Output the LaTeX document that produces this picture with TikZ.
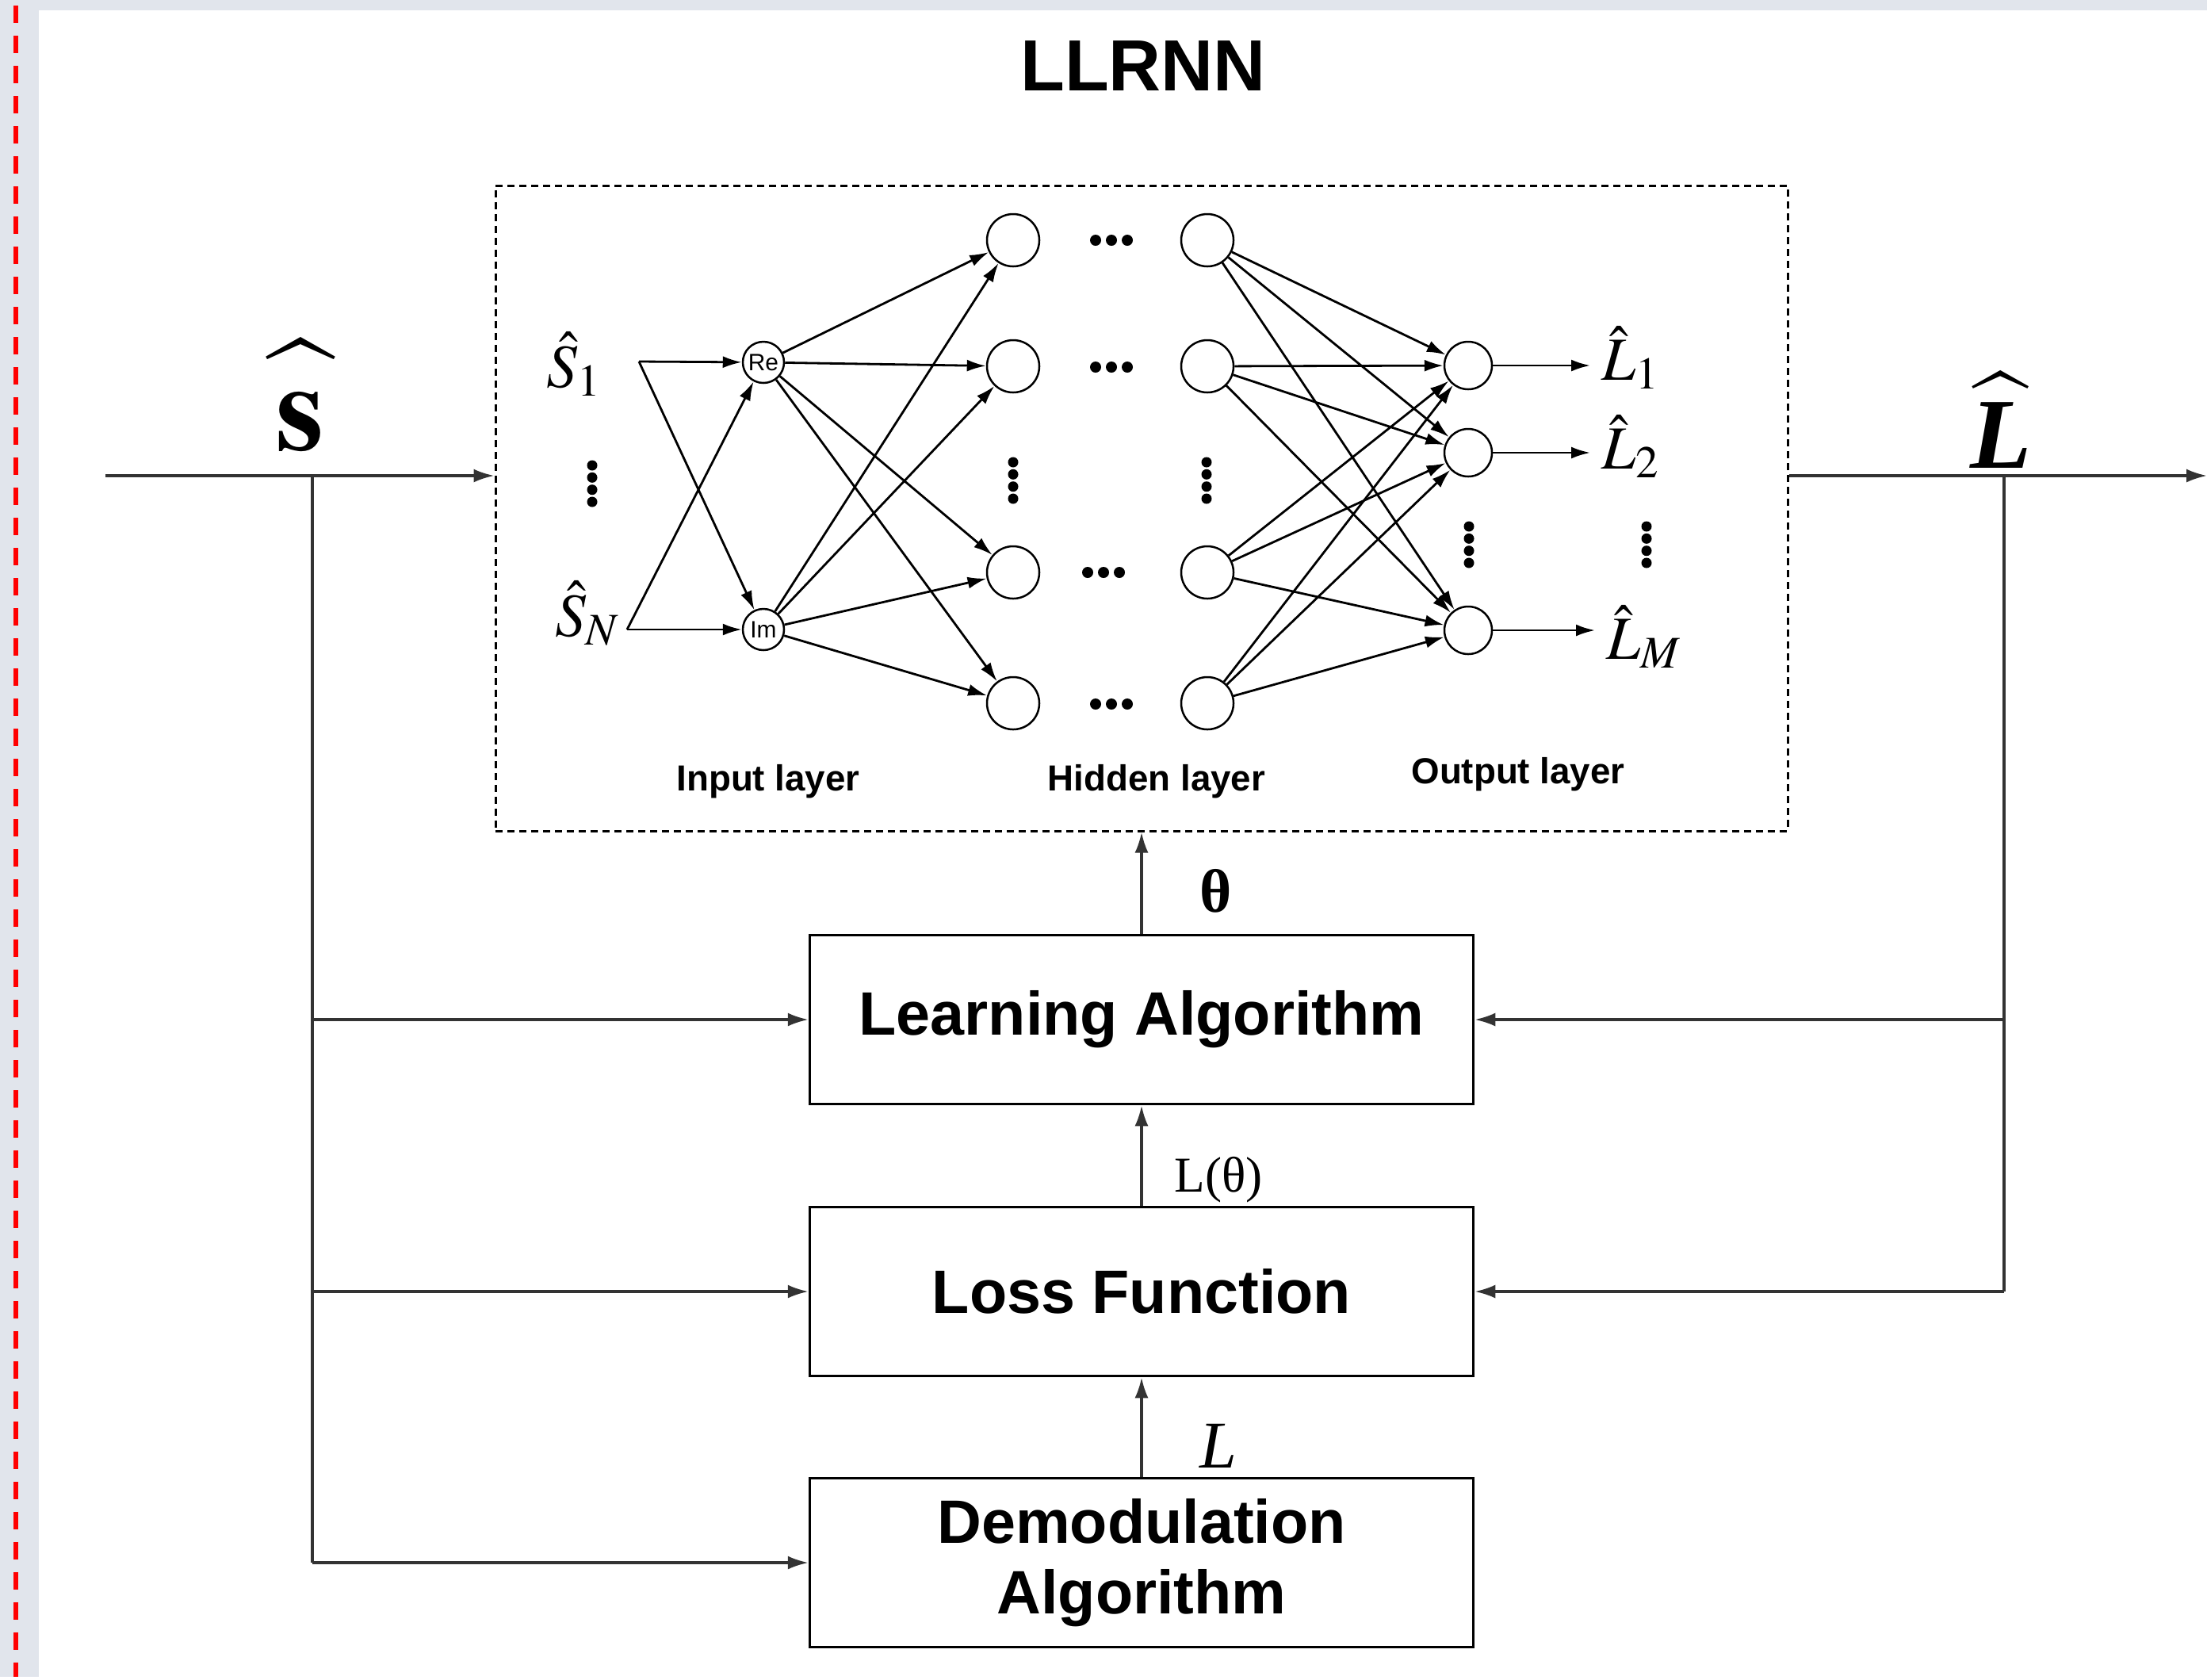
\documentclass[tikz,border=0pt]{standalone}
\usepackage{mathptmx}
\usepackage{fontspec}
\setmainfont{Liberation Serif}
\setsansfont{Liberation Sans}
\usetikzlibrary{arrows.meta}
\definecolor{pagegray}{HTML}{E1E5EC}

\begin{document}
\begin{tikzpicture}[
	line/.style={line width=0.032cm, black!80},
	arr/.style={line, -{Latex[length=0.26cm,width=0.17cm]}},
	narr/.style={line width=0.028cm, -{Latex[length=0.24cm,width=0.15cm]}},
	blk/.style={draw, line width=0.035cm, minimum width=8.37cm, minimum height=2.13cm, inner sep=0pt, align=center, font=\sffamily\bfseries\fontsize{22}{25.5}\selectfont},
	inn/.style={draw, circle, line width=0.025cm, minimum size=0.52cm, inner sep=0pt, font=\sffamily\fontsize{8.5}{8.5}\selectfont},
	hid/.style={draw, circle, line width=0.025cm, minimum size=0.66cm, inner sep=0pt},
	outn/.style={draw, circle, line width=0.025cm, minimum size=0.6cm, inner sep=0pt},
	lay/.style={font=\sffamily\bfseries\fontsize{13}{15}\selectfont},
	sym/.style={font=\fontsize{22}{26}\selectfont, inner sep=1pt}
]
			% page frame
			\fill[pagegray] (0,0) rectangle (27.84,-21.15);
			\fill[white] (0.49,-0.13) rectangle (27.84,-21.15);
			\draw[red, line width=0.06cm, dash pattern=on 0.22cm off 0.16cm] (0.20,-0.07) -- (0.20,-21.15);
			\useasboundingbox (0,0) rectangle (27.84,-21.15);

			\node[font=\sffamily\bfseries\fontsize{26}{30}\selectfont] (title)at(14.42, -0.83) {LLRNN};
			\node[draw, line width=0.03cm, dash pattern=on 0.09cm off 0.06cm, minimum width=16.30cm, minimum height=8.14cm, inner sep=0pt] (nn)at(14.40, -6.41) {};

			% network
			\node[sym, anchor=base] (s1)at(7.24, -4.88) {$\hat{S}_1$};
			\node[sym, anchor=base] (sN)at(7.41, -8.02) {$\hat{S}_N$};
			\coordinate (s1o)at(8.06, -4.56);
			\coordinate (sNo)at(7.91, -7.94);
			\node[inn] (re)at(9.63, -4.57) {Re};
			\node[inn] (im)at(9.63, -7.94) {Im};
			\node[hid] (h11)at(12.78, -3.03) {};
			\node[hid] (h12)at(12.78, -4.62) {};
			\node[hid] (h13)at(12.78, -7.22) {};
			\node[hid] (h14)at(12.78, -8.87) {};
			\node[hid] (h21)at(15.23, -3.03) {};
			\node[hid] (h22)at(15.23, -4.62) {};
			\node[hid] (h23)at(15.23, -7.22) {};
			\node[hid] (h24)at(15.23, -8.87) {};
			\node[outn] (o1)at(18.52, -4.61) {};
			\node[outn] (o2)at(18.52, -5.71) {};
			\node[outn] (oM)at(18.52, -7.95) {};
			\node[sym, anchor=base west, inner xsep=4pt] (l1)at(20.06, -4.79) {$\hat{L}_1$};
			\node[sym, anchor=base west, inner xsep=4pt] (l2)at(20.06, -5.91) {$\hat{L}_2$};
			\node[sym, anchor=base west, inner xsep=4pt] (lM)at(20.12, -8.31) {$\hat{L}_M$};

			\draw[narr] (s1o) -- (re);
			\draw[narr] (s1o) -- (im);
			\draw[narr] (sNo) -- (im);
			\draw[narr] (sNo) -- (re);
			\draw[narr] (re) edge (h11) edge (h12) edge (h13) edge (h14);
			\draw[narr] (im) edge (h11) edge (h12) edge (h13) edge (h14);
			\draw[narr] (h21) edge (o1) edge (o2) edge (oM);
			\draw[narr] (h22) edge (o1) edge (o2) edge (oM);
			\draw[narr] (h23) edge (o1) edge (o2) edge (oM);
			\draw[narr] (h24) edge (o1) edge (o2) edge (oM);
			\draw[narr] (o1) -- (o1 -| l1.west);
			\draw[narr] (o2) -- (o2 -| l2.west);
			\draw[narr] (oM) -- (oM -| lM.west);

			% dots
			\foreach \x/\y in {7.47/-6.10, 12.78/-6.06, 15.22/-6.06, 18.53/-6.87, 20.77/-6.87}
				\foreach \d in {-0.23, -0.077, 0.077, 0.23}
					\fill ({\x}, {\y+(\d)}) circle (0.065);
			\foreach \x/\y in {14.02/-3.03, 14.02/-4.63, 13.92/-7.22, 14.02/-8.88}
				\foreach \d in {-0.2, 0, 0.2}
					\fill ({\x+(\d)}, {\y}) circle (0.07);

			\node[lay] (inl)at(9.69, -9.86) {Input layer};
			\node[lay] (hidl)at(14.59, -9.86) {Hidden layer};
			\node[lay] (outl)at(19.15, -9.77) {Output layer};

			% blocks
			\node[blk] (learn)at(14.40, -12.86) {Learning Algorithm};
			\node[blk] (loss)at(14.40, -16.29) {Loss Function};
			\node[blk] (demod)at(14.40, -19.71) {Demodulation\\Algorithm};

			\coordinate (sin)at(1.33, -6.00);
			\coordinate (sj)at(3.94, -6.00);
			\coordinate (lj)at(25.28, -6.00);
			\coordinate (lout)at(27.84, -6.00);
			\node[anchor=base, font=\fontsize{44}{48}\selectfont] (shat)at(3.79, -5.67) {$\widehat{\mathbf{s}\rule{0pt}{0.6em}}$};
			\node[anchor=base, font=\fontsize{36}{40}\selectfont] (lhat)at(25.24, -5.90) {$\widehat{\hbox{\bfseries\itshape L}}$};

			\draw[arr] (sin) -- (sin -| nn.west);
			\draw[arr] (nn.east |- lout) -- (lout);
			\draw[line] (sj) -- (sj |- demod.west);
			\draw[arr] (sj |- learn.west) -- (learn.west);
			\draw[arr] (sj |- loss.west) -- (loss.west);
			\draw[arr] (sj |- demod.west) -- (demod.west);
			\draw[line] (lj) -- (lj |- loss.east);
			\draw[arr] (lj |- learn.east) -- (learn.east);
			\draw[arr] (lj |- loss.east) -- (loss.east);
			\draw[arr] (learn.north) -- (learn.north |- nn.south);
			\draw[arr] (loss.north) -- (learn.south);
			\draw[arr] (demod.north) -- (loss.south);

			\node[font=\bfseries\fontsize{22}{26}\selectfont] (theta)at(15.34, -11.24) {θ};
			\node[font=\fontsize{18}{22}\selectfont] (ltheta)at(15.37, -14.88) {L(θ)};
			\node[font=\itshape\fontsize{24}{28}\selectfont] (lab)at(15.37, -18.24) {L};
		\end{tikzpicture}
\end{document}
